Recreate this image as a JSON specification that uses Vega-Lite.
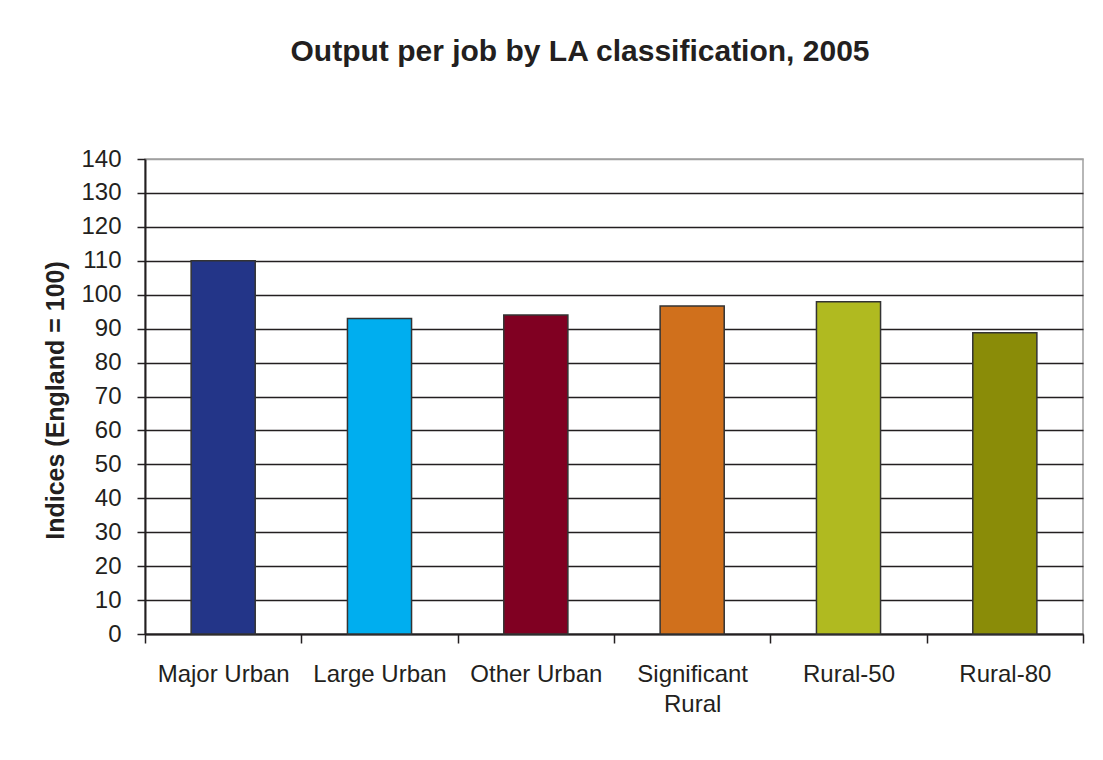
{
  "$schema": "https://vega.github.io/schema/vega-lite/v6.json",
  "width": 938,
  "height": 475,
  "autosize": {"type": "none"},
  "padding": {"left": 145, "top": 159, "right": 20, "bottom": 126},
  "background": "white",
  "title": {
    "text": "Output per job by LA classification, 2005",
    "font": "Liberation Sans",
    "fontSize": 30,
    "fontWeight": "bold",
    "color": "#231f20",
    "anchor": "middle",
    "frame": "group",
    "baseline": "alphabetic",
    "offset": 56,
    "dx": -34
  },
  "data": {
    "values": [
      {"category": "Major Urban", "index": 110},
      {"category": "Large Urban", "index": 93},
      {"category": "Other Urban", "index": 94},
      {"category": "Significant Rural", "index": 96.7},
      {"category": "Rural-50", "index": 97.9},
      {"category": "Rural-80", "index": 88.8}
    ]
  },
  "mark": {"type": "bar", "stroke": "#333333", "strokeWidth": 1.5, "width": {"band": 0.41}},
  "encoding": {
    "x": {
      "field": "category",
      "type": "nominal",
      "sort": null,
      "scale": {"paddingInner": 0, "paddingOuter": 0},
      "axis": {
        "title": null,
        "labelAngle": 0,
        "labelFont": "Liberation Sans",
        "labelFontSize": 24,
        "labelColor": "#231f20",
        "labelPadding": 19,
        "labelLineHeight": 30,
        "labelExpr": "datum.label == 'Significant Rural' ? ['Significant', 'Rural'] : datum.label",
        "tickBand": "extent",
        "tickSize": 9,
        "tickColor": "#231f20",
        "tickWidth": 1.5,
        "domainColor": "#231f20",
        "domainWidth": 2,
        "grid": false
      }
    },
    "y": {
      "field": "index",
      "type": "quantitative",
      "scale": {"domain": [0, 140], "nice": false},
      "axis": {
        "title": "Indices (England = 100)",
        "titleFont": "Liberation Sans",
        "titleFontSize": 25,
        "titleFontWeight": "bold",
        "titleColor": "#231f20",
        "titleAngle": -90,
        "titleBaseline": "alphabetic",
        "titleAlign": "center",
        "titleX": -82,
        "titleY": 241,
        "values": [0, 10, 20, 30, 40, 50, 60, 70, 80, 90, 100, 110, 120, 130, 140],
        "labelFont": "Liberation Sans",
        "labelFontSize": 24,
        "labelColor": "#231f20",
        "labelPadding": 16,
        "tickSize": 8,
        "tickColor": "#231f20",
        "tickWidth": 1.5,
        "domainColor": "#231f20",
        "domainWidth": 2,
        "grid": true,
        "gridColor": {"condition": {"test": "datum.value === 140", "value": "#a0a0a0"}, "value": "#231f20"},
        "gridWidth": 1.5,
        "gridOpacity": 1
      }
    },
    "color": {
      "field": "category",
      "type": "nominal",
      "sort": null,
      "scale": {
        "domain": ["Major Urban", "Large Urban", "Other Urban", "Significant Rural", "Rural-50", "Rural-80"],
        "range": ["#233588", "#00aeef", "#800022", "#d0701c", "#b0ba20", "#8a8c08"]
      },
      "legend": null
    }
  },
  "config": {
    "view": {"stroke": "#a0a0a0", "strokeWidth": 1.5}
  }
}
